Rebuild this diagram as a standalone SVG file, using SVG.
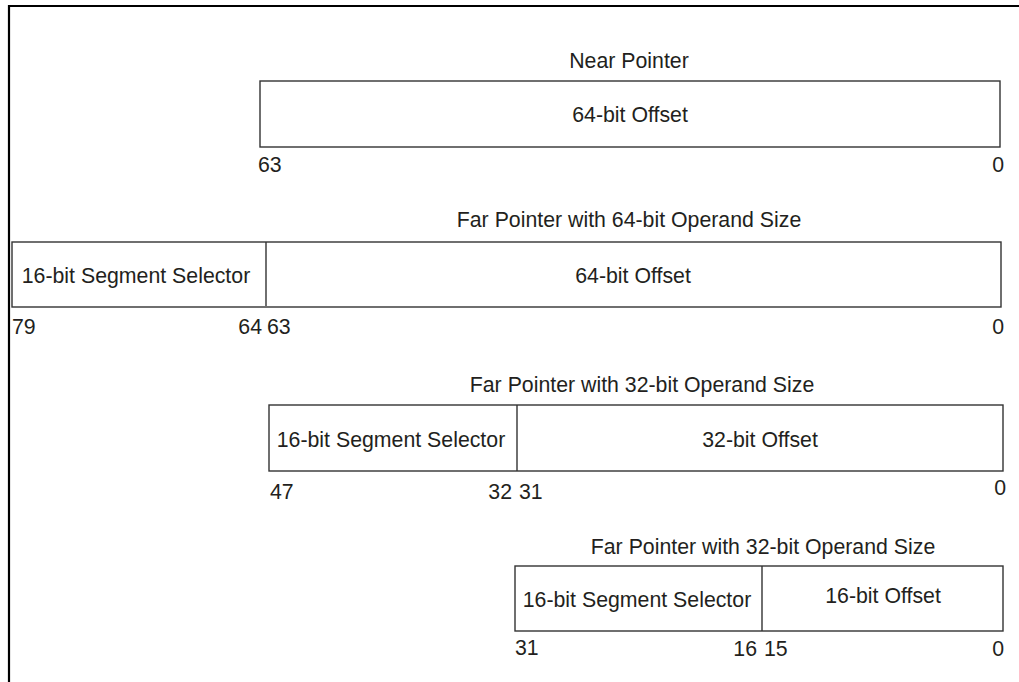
<svg xmlns="http://www.w3.org/2000/svg" width="1019" height="682" viewBox="0 0 1019 682">
<style>
.frame{stroke:#000;stroke-width:2.2;fill:none}
.box{fill:#fff;stroke:#333;stroke-width:1.4}
.div{stroke:#333;stroke-width:1.4}
text{font-family:"Liberation Sans",Arial,sans-serif;font-size:21.3px;fill:#231f20}
.c{text-anchor:middle}
.e{text-anchor:end}
</style>
<rect width="1019" height="682" fill="#fff"/>
<g id="frame">
<polyline class="frame" points="9,682 9,6 1019,6"/>
</g>
<g id="near-pointer">
<text class="c" x="629" y="68">Near Pointer</text>
<rect class="box" x="260" y="81" width="740" height="66"/>
<text class="c" x="630" y="122">64-bit Offset</text>
<text x="258" y="172">63</text>
<text class="e" x="1004" y="172">0</text>
</g>
<g id="far-pointer-64">
<text class="c" x="629" y="227">Far Pointer with 64-bit Operand Size</text>
<rect class="box" x="12" y="242" width="989" height="65"/>
<text class="c" x="136" y="283">16-bit Segment Selector</text>
<text class="c" x="633" y="283">64-bit Offset</text>
<text x="12" y="334">79</text>
<text class="e" x="262" y="334">64</text>
<text x="267" y="334">63</text>
<text class="e" x="1004" y="334">0</text>
</g>
<g id="far-pointer-32">
<text class="c" x="642" y="392">Far Pointer with 32-bit Operand Size</text>
<rect class="box" x="269" y="405" width="734" height="66"/>
<text class="c" x="391" y="447">16-bit Segment Selector</text>
<text class="c" x="760" y="447">32-bit Offset</text>
<text x="270" y="499">47</text>
<text class="e" x="512" y="499">32</text>
<text x="519" y="499">31</text>
<text class="e" x="1006" y="495">0</text>
</g>
<g id="far-pointer-16">
<text class="c" x="763" y="554">Far Pointer with 32-bit Operand Size</text>
<rect class="box" x="515" y="566" width="488" height="65"/>
<text class="c" x="637" y="607">16-bit Segment Selector</text>
<text class="c" x="883" y="603">16-bit Offset</text>
<text x="515" y="655">31</text>
<text class="e" x="757" y="656">16</text>
<text x="764" y="656">15</text>
<text class="e" x="1004" y="656">0</text>
</g>
<g id="connectors">
<line class="div" x1="266" y1="242" x2="266" y2="306"/>
<line class="div" x1="517" y1="405" x2="517" y2="471"/>
<line class="div" x1="762" y1="566" x2="762" y2="631"/>
</g>
</svg>
